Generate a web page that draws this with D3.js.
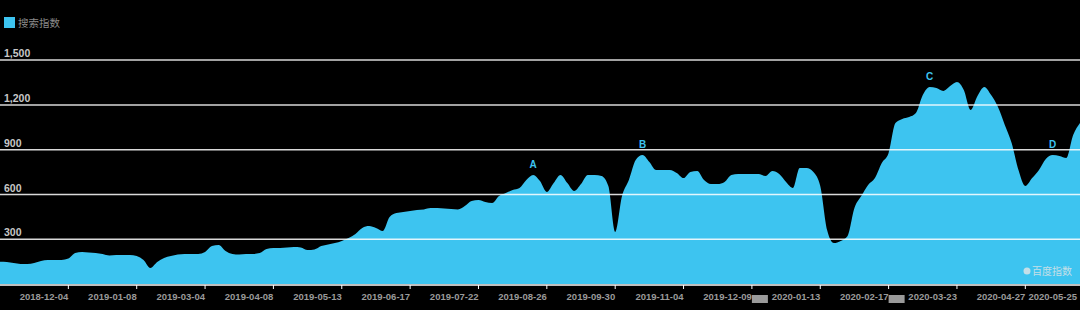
<!DOCTYPE html>
<html>
<head>
<meta charset="utf-8">
<script src="https://cdn.jsdelivr.net/npm/d3@7"></script>
<style>
  html, body { margin: 0; padding: 0; background: #000; }
  svg { display: block; font-family: "Liberation Sans", Arial, "Noto Sans CJK SC", sans-serif; }
</style>
</head>
<body>
<div id="chart"></div>
<script>
// --- Data (half-week samples) ---
const seriesName = "搜索指数";
const values = [
  150, 148, 141, 135, 135, 141, 155, 161, 161, 161,
  171, 208, 215, 212, 208, 202, 192, 195, 195, 195,
  188, 161, 108, 148, 175, 188, 198, 202, 202, 202,
  215, 255, 262, 222, 202, 198, 202, 202, 208, 235,
  242, 242, 245, 248, 245, 228, 232, 255, 265, 275,
  289, 309, 336, 376, 389, 376, 356, 449, 476, 483,
  490, 496, 500, 510, 510, 506, 503, 500, 523, 557,
  563, 550, 543, 590, 610, 630, 644, 697, 731, 690,
  617, 677, 731, 677, 624, 670, 731, 731, 724, 657,
  349, 590, 697, 831, 865, 818, 764, 764, 764, 744,
  710, 751, 757, 697, 670, 670, 684, 731, 737, 737,
  737, 737, 724, 757, 737, 684, 644, 778, 778, 751,
  657, 362, 275, 289, 322, 510, 590, 664, 710, 811,
  878, 1079, 1106, 1119, 1146, 1266, 1320, 1313, 1293, 1326,
  1353, 1300, 1166, 1259, 1320, 1266, 1186, 1066, 945, 764,
  657, 710, 764, 838, 865, 858, 844, 998, 1079
];
const tickLabels = [
  "2018-12-04", "2019-01-08", "2019-03-04", "2019-04-08", "2019-05-13",
  "2019-06-17", "2019-07-22", "2019-08-26", "2019-09-30", "2019-11-04",
  "2019-12-09", "2020-01-13", "2020-02-17", "2020-03-23", "2020-04-27",
  "2020-05-25"
];
const yTicks = [300, 600, 900, 1200, 1500];
const markers = [
  { label: "A", index: 78 },
  { label: "B", index: 94 },
  { label: "C", index: 136 },
  { label: "D", index: 154 }
];

// --- Layout ---
const width = 1080, height = 310;
const blue = "#3dc4f0";

const x = d3.scaleLinear().domain([0, values.length - 1]).range([0, width]);
const y = d3.scaleLinear().domain([0, 1500]).range([284.1, 60.1]);

const svg = d3.select("#chart").append("svg")
  .attr("width", width)
  .attr("height", height);

svg.append("rect").attr("width", width).attr("height", height).attr("fill", "#000");

// legend
svg.append("rect")
  .attr("x", 4).attr("y", 17).attr("width", 11).attr("height", 11)
  .attr("fill", blue);
svg.append("text")
  .attr("x", 18).attr("y", 26.5)
  .attr("fill", "#8a8a8a")
  .attr("font-size", 10.5)
  .text(seriesName);

// area
const area = d3.area()
  .x((d, i) => x(i))
  .y0(y(0))
  .y1(d => y(d))
  .curve(d3.curveMonotoneX);

svg.append("path")
  .datum(values)
  .attr("d", area)
  .attr("fill", blue);

// grid lines + y labels
const grid = svg.append("g");
grid.selectAll("line")
  .data(yTicks)
  .join("line")
  .attr("x1", 0).attr("x2", width)
  .attr("y1", d => y(d)).attr("y2", d => y(d))
  .attr("stroke", "#fff")
  .attr("stroke-opacity", 0.85)
  .attr("stroke-width", 1.5);
grid.selectAll("text")
  .data(yTicks)
  .join("text")
  .attr("x", 4)
  .attr("y", d => y(d) - 3)
  .attr("fill", "#c8c8c8")
  .attr("font-size", 10.5)
  .attr("font-weight", "bold")
  .text(d3.format(","));

// x axis
const tickIdx = tickLabels.map((d, i) => 10 + i * 10);
const xAxis = svg.append("g");
xAxis.append("line")
  .attr("x1", 0).attr("x2", width)
  .attr("y1", 285).attr("y2", 285)
  .attr("stroke", "#fff").attr("stroke-width", 1.5);
xAxis.selectAll("line.tick")
  .data(tickIdx.filter(i => x(i) < width))
  .join("line")
  .attr("class", "tick")
  .attr("x1", d => x(d)).attr("x2", d => x(d))
  .attr("y1", 285).attr("y2", 289)
  .attr("stroke", "#fff").attr("stroke-width", 1);
xAxis.selectAll("text")
  .data(tickLabels)
  .join("text")
  .attr("x", (d, i) => Math.min(x(tickIdx[i]), width - 3))
  .attr("y", 300)
  .attr("text-anchor", "end")
  .attr("fill", "#9a9a9a")
  .attr("font-size", 9.5)
  .attr("font-weight", "bold")
  .text(d => d);

// odd grey blocks below the axis
svg.selectAll("rect.blk")
  .data([11, 13])
  .join("rect")
  .attr("class", "blk")
  .attr("x", d => x(tickIdx[d - 1]))
  .attr("y", 295).attr("width", 16).attr("height", 8)
  .attr("fill", "#9a9a9a");

// markers A-D
svg.selectAll("text.mk")
  .data(markers)
  .join("text")
  .attr("class", "mk")
  .attr("x", d => x(d.index))
  .attr("y", d => y(values[d.index]) - 10)
  .attr("text-anchor", "middle")
  .attr("dominant-baseline", "central")
  .attr("fill", blue)
  .attr("font-size", 10)
  .attr("font-weight", "bold")
  .text(d => d.label);

// watermark
svg.append("circle").attr("cx", 1027).attr("cy", 271).attr("r", 3.5)
  .attr("fill", "#e6e6e6").attr("opacity", 0.8);
svg.append("text")
  .attr("x", 1032).attr("y", 275)
  .attr("fill", "#e6e6e6").attr("opacity", 0.8)
  .attr("font-size", 10)
  .text("百度指数");
</script>
</body>
</html>
